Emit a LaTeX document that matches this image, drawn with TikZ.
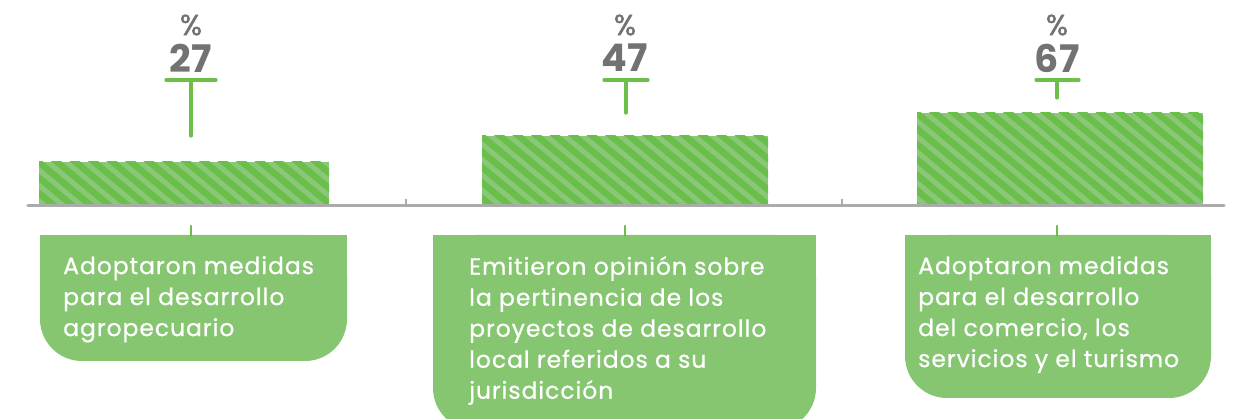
\documentclass[tikz,border=0pt]{standalone}
\usepackage{fontspec}
\setmainfont{Poppins}[LetterSpace=4,FakeBold=0.7]
\newfontfamily\numfont{Poppins}[LetterSpace=1]
\newfontfamily\pctfont{Poppins}[FakeBold=1.5]
\definecolor{boxgreen}{HTML}{86C671}
\definecolor{stlight}{HTML}{8AC878}
\definecolor{stdark}{HTML}{6ABF4B}
\definecolor{tgreen}{HTML}{6CC04A}
\definecolor{axisgray}{HTML}{ABABAB}
\definecolor{numgray}{HTML}{727272}
\tikzset{
  tmark/.style={draw=tgreen, line width=3.2pt, line cap=round},
  axisline/.style={draw=axisgray, line width=3.2pt},
  pct/.style={text=numgray, font=\pctfont\fontsize{29}{29}\selectfont, inner sep=0pt},
  num/.style={text=numgray, font=\numfont\bfseries\fontsize{38}{38}\selectfont, inner sep=0pt},
  boxtext/.style={text=white, font=\fontsize{23.5}{31}\selectfont, align=left, anchor=north west, inner sep=0pt, text depth=0pt},
}
\newcommand{\stripebar}[4]{% x1,y1,x2,y2
  \fill[stlight] (#1,#2) rectangle (#3,#4);
  \begin{scope}
    \clip (#1,#2) rectangle (#3,#4);
    \foreach \k in {-8,...,30}{
      \draw[stdark, line width=6.5pt] ({#1+\k*18.5-10},{#2-8}) -- ({#1+\k*18.5-10+1.2*(#4-#2+16)},{#4+8});
    }
  \end{scope}
}
\begin{document}
\begin{tikzpicture}[x=1pt,y=-1pt]
\useasboundingbox (0,0) rectangle (1237,419);
% bars
\stripebar{39}{162}{329}{204}
\stripebar{482}{136}{768}{204}
\stripebar{917}{113}{1203}{204}
% axis
\coordinate (axL) at (28,205.5);
\coordinate (axR) at (1224,205.5);
\draw[axisline, line cap=round] (axL) -- (axR);
\coordinate (tk1) at (405.5,205);
\coordinate (tk1t) at (405.5,199);
\coordinate (tk2) at (841.5,205);
\coordinate (tk2t) at (841.5,199);
\draw[draw=axisgray, line width=2pt] (tk1) -- (tk1t);
\draw[draw=axisgray, line width=2pt] (tk2) -- (tk2t);
% percentages
\node[pct] (p1) at (191,25) {\%};
\node[num] (n1) at (191,58) {27};
\node[pct] (p2) at (625,25) {\%};
\node[num] (n2) at (625,58) {47};
\node[pct] (p3) at (1057,25) {\%};
\node[num] (n3) at (1057,58) {67};
% T markers
\coordinate (t1l) at (166,80); \coordinate (t1r) at (216,80);
\coordinate (t1a) at (191,80); \coordinate (t1b) at (191,136);
\draw[tmark] (t1l) -- (t1r); \draw[tmark] (t1a) -- (t1b);
\coordinate (t2l) at (604,80); \coordinate (t2r) at (648,80);
\coordinate (t2a) at (626,80); \coordinate (t2b) at (626,113);
\draw[tmark] (t2l) -- (t2r); \draw[tmark] (t2a) -- (t2b);
\coordinate (t3l) at (1036,80); \coordinate (t3r) at (1079,80);
\coordinate (t3a) at (1057,80); \coordinate (t3b) at (1057,98);
\draw[tmark] (t3l) -- (t3r); \draw[tmark] (t3a) -- (t3b);
% boxes
\fill[boxgreen, rounded corners=42pt] (40,235) rectangle (347,361);
\fill[boxgreen] (40,235) rectangle (347,290);
\fill[boxgreen, rounded corners=42pt] (433,235) rectangle (816,430);
\fill[boxgreen] (433,235) rectangle (816,300);
\fill[boxgreen, rounded corners=42pt] (905,235) rectangle (1211,398);
\fill[boxgreen] (905,235) rectangle (1211,300);
% small ticks into boxes
\coordinate (b1t) at (191,226); \coordinate (b1b) at (191,236);
\coordinate (b2t) at (625,226); \coordinate (b2b) at (625,236);
\coordinate (b3t) at (1057,226); \coordinate (b3b) at (1057,236);
\draw[tmark, line width=2.5pt] (b1t) -- (b1b);
\draw[tmark, line width=2.5pt] (b2t) -- (b2b);
\draw[tmark, line width=2.5pt] (b3t) -- (b3b);
% texts
\node[boxtext] (txt1) at (63,256) {Adoptaron medidas\\para el desarrollo\\agropecuario};
\node[boxtext] (txt2) at (469,256) {Emitieron opinión sobre\\la pertinencia de los\\proyectos de desarrollo\\local referidos a su\\jurisdicción};
\node[boxtext] (txt3) at (918,256) {Adoptaron medidas\\para el desarrollo\\del comercio, los\\servicios y el turismo};
\end{tikzpicture}
\end{document}
